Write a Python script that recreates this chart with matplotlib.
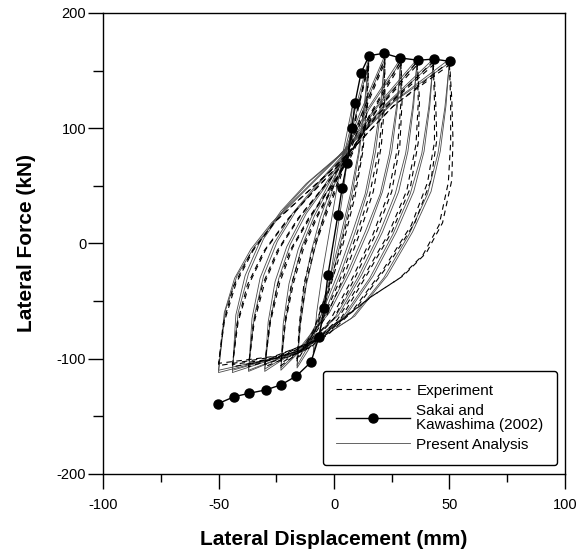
import matplotlib
matplotlib.use("Agg")
import matplotlib.pyplot as plt
from matplotlib.ticker import MultipleLocator

plt.rcParams['font.family'] = ['Liberation Sans', 'DejaVu Sans']
plt.rcParams['axes.unicode_minus'] = False

# ---------------- data ----------------
# Present Analysis loops, first cycle at each displacement amplitude
analysis_x = [
    [8, 6.5, 4, 1, -2, -5, -9, -7.5, -5, -2, 1, 4, 8],
    [15, 13.5, 11, 8, 4, -1, -6, -11, -16, -15, -13, -10, -6, -1, 4, 9, 15],
    [22, 20.5, 18, 14.5, 9.5, 3, -4, -12, -23, -22, -19.5, -15.5, -10, -4, 3, 11, 22],
    [29, 27.5, 25, 21, 15, 7, -2, -14, -30, -28.5, -25.5, -20.5, -13.5, -5, 3, 14, 29],
    [36, 34.5, 32, 28, 21, 12, 2, -14, -37, -35.5, -32, -26, -18, -8, 3, 18, 36],
    [43, 41.5, 39, 34.5, 27, 17, 5, -15, -44, -42.5, -38.5, -32, -23, -12, 2, 22, 43],
    [50, 48.5, 46, 42, 34, 23, 9, -15, -50, -47.5, -43, -36, -27, -16, -6, 4, 25, 50],
]
analysis_y = [
    [120, 85, 45, 5, -35, -68, -95, -60, -25, 10, 45, 80, 120],
    [160, 120, 80, 45, 10, -30, -65, -92, -108, -72, -38, -8, 22, 50, 75, 115, 160],
    [163, 120, 80, 45, 12, -25, -60, -88, -110, -70, -35, -5, 22, 45, 72, 112, 163],
    [161, 120, 80, 45, 12, -25, -60, -90, -111, -68, -33, -3, 24, 48, 72, 115, 161],
    [160, 120, 80, 45, 10, -27, -62, -92, -111, -65, -30, 0, 26, 50, 75, 118, 160],
    [160, 120, 80, 45, 10, -28, -63, -93, -112, -62, -28, 2, 28, 52, 76, 120, 160],
    [160, 120, 80, 45, 10, -28, -63, -94, -112, -60, -30, -5, 18, 40, 60, 80, 122, 160],
]
# Present Analysis loops, second cycle
analysis2_x = [
    [15, 13, 10.5, 7, 3, -2, -7, -12, -16, -14.5, -12, -8.5, -4.5, 0, 5, 10, 15],
    [22, 20, 17, 13.5, 8, 1.5, -5.5, -13, -23, -21, -18, -14, -8.5, -2.5, 4, 12, 22],
    [29, 27, 24, 20, 13.5, 5.5, -3.5, -15, -30, -27.5, -24, -19, -12, -3.5, 4.5, 15, 29],
    [36, 34, 31, 26.5, 19.5, 10.5, 0.5, -15, -37, -34.5, -30.5, -24.5, -16.5, -6.5, 4, 19, 36],
    [43, 41, 38, 33, 25.5, 15.5, 3.5, -16, -44, -41.5, -37, -30.5, -21.5, -10.5, 3, 23, 43],
    [50, 48, 45, 40.5, 32.5, 21.5, 7.5, -16, -50, -47, -42, -34.5, -25.5, -14.5, -5, 5, 26, 50],
]
analysis2_y = [
    [157, 118, 78, 42, 8, -32, -66, -92, -106, -70, -36, -6, 24, 50, 76, 116, 157],
    [160, 118, 78, 43, 10, -27, -62, -89, -108, -68, -33, -3, 24, 47, 73, 113, 160],
    [158, 118, 78, 43, 10, -27, -62, -91, -109, -66, -31, -1, 26, 50, 74, 116, 158],
    [157, 118, 78, 43, 8, -29, -64, -93, -110, -63, -28, 2, 28, 52, 76, 119, 157],
    [157, 118, 78, 43, 8, -30, -65, -94, -110, -60, -26, 4, 30, 54, 77, 121, 157],
    [157, 118, 78, 43, 8, -30, -65, -95, -110, -58, -28, -3, 20, 42, 61, 81, 123, 157],
]

# Experiment loops, first cycle
experiment_x = [
    [15, 14.5, 12.5, 9, 4, -2, -8, -16, -15, -13, -9, -4, 1, 6, 10, 15],
    [22, 22, 20.5, 17, 11, 4, -3, -12, -23, -21.5, -18.5, -14, -8, -1, 5, 12, 22],
    [29, 29.5, 28.5, 25, 18, 9, 0, -12, -30, -28, -24.5, -19, -11, -2, 6, 15, 29],
    [36, 37, 36.5, 33, 25, 14, 3, -10, -37, -35, -31, -24.5, -15.5, -5, 5, 17, 36],
    [43, 44, 44.5, 42, 35, 23, 10, -3, -25, -44, -42, -37.5, -30.5, -20.5, -9, 3, 18, 43],
    [50, 51, 51.5, 51, 47, 40, 30, 17, 3, -6, -25, -50, -48, -43.5, -36, -26, -14, -2, 8, 25, 50],
]
experiment_y = [
    [157, 120, 80, 40, 0, -40, -75, -102, -70, -35, -3, 25, 50, 80, 115, 157],
    [160, 125, 85, 45, 8, -30, -62, -90, -106, -70, -36, -5, 22, 48, 72, 112, 160],
    [159, 125, 85, 45, 8, -30, -65, -92, -107, -70, -36, -6, 22, 48, 72, 110, 159],
    [158, 125, 88, 48, 10, -28, -65, -90, -107, -70, -36, -6, 22, 48, 72, 112, 158],
    [158, 125, 90, 55, 18, -20, -55, -80, -100, -107, -70, -36, -7, 20, 45, 70, 110, 158],
    [158, 125, 90, 55, 18, -8, -28, -45, -67, -82, -98, -106, -70, -37, -8, 18, 40, 62, 82, 118, 158],
]
# Experiment loops, second cycle
experiment2_x = [
    [15, 14, 12, 8, 3, -3, -9, -16, -14.5, -12, -8, -3, 2, 6.5, 10.5, 15],
    [22, 21.5, 19.5, 15.5, 9.5, 2.5, -4.5, -13, -23, -21, -17.5, -13, -7, 0, 6, 13, 22],
    [29, 29, 27.5, 23.5, 16.5, 7.5, -1.5, -13, -30, -27.5, -23.5, -18, -10, -1, 7, 16, 29],
    [36, 36.5, 35.5, 31.5, 23.5, 12.5, 1.5, -11, -37, -34.5, -30, -23.5, -14.5, -4, 6, 18, 36],
    [43, 43.5, 43.5, 40.5, 33.5, 21.5, 8.5, -4.5, -26, -44, -41.5, -36.5, -29.5, -19.5, -8, 4, 19, 43],
    [50, 50.5, 50.5, 49.5, 45.5, 38.5, 28.5, 15.5, 1.5, -7.5, -26, -50, -47.5, -42.5, -35, -25, -13, -1, 9, 26, 50],
]
experiment2_y = [
    [154, 118, 78, 38, -2, -42, -76, -100, -68, -33, -1, 27, 52, 82, 117, 154],
    [157, 123, 83, 43, 6, -32, -64, -91, -104, -68, -34, -3, 24, 50, 74, 114, 157],
    [156, 123, 83, 43, 6, -32, -66, -93, -105, -68, -34, -4, 24, 50, 74, 112, 156],
    [155, 123, 86, 46, 8, -30, -66, -91, -105, -68, -34, -4, 24, 50, 74, 114, 155],
    [155, 123, 88, 53, 16, -22, -57, -81, -100, -105, -68, -34, -5, 22, 47, 72, 112, 155],
    [155, 123, 88, 53, 16, -10, -30, -47, -69, -84, -98, -104, -68, -35, -6, 20, 42, 64, 84, 120, 155],
]

# Sakai and Kawashima (2002) envelope points
sakai_x = [-50.2, -43.3, -36.8, -29.4, -22.9, -16.3, -10.0, -6.5, -4.3, -2.6,
           1.7, 3.5, 5.6, 7.8, 9.1, 11.7, 15.2, 21.6, 28.6, 36.4, 43.3, 50.2]
sakai_y = [-139, -133, -130, -127, -122.6, -115, -103, -81, -56, -27,
           25, 48, 70, 100, 122, 148, 163, 165, 161, 159, 160, 158]

x_ticks = [-100, -50, 0, 50, 100]
y_ticks = [-200, -100, 0, 100, 200]

# ---------------- figure ----------------
fig = plt.figure(figsize=(5.87, 5.53), dpi=100)
ax = fig.add_axes([0.1755, 0.1429, 0.787, 0.8336])

ana_color = '#4a4a4a'
first = True
for xs_list, ys_list in ((analysis_x, analysis_y), (analysis2_x, analysis2_y)):
    for xs, ys in zip(xs_list, ys_list):
        ax.plot(xs, ys, color=ana_color, lw=0.6,
                label='Present Analysis' if first else None, zorder=2)
        first = False

first = True
for xs_list, ys_list in ((experiment_x, experiment_y), (experiment2_x, experiment2_y)):
    for xs, ys in zip(xs_list, ys_list):
        ax.plot(xs, ys, color='black', lw=0.8, linestyle=(0, (5, 4)),
                label='Experiment' if first else None, zorder=3)
        first = False

ax.plot(sakai_x, sakai_y, color='black', lw=1.0, marker='o', markersize=6.5,
        label='Sakai and\nKawashima (2002)', zorder=4)

ax.set_xlim(-100, 100)
ax.set_ylim(-200, 200)
ax.set_xticks(x_ticks)
ax.set_yticks(y_ticks)
ax.xaxis.set_minor_locator(MultipleLocator(25))
ax.yaxis.set_minor_locator(MultipleLocator(50))
ax.tick_params(axis='x', which='major', direction='out', length=11, width=1, pad=6, labelsize=10.5)
ax.tick_params(axis='x', which='minor', direction='out', length=6, width=1)
ax.tick_params(axis='y', which='major', direction='out', length=11, width=1, pad=1, labelsize=10.5)
ax.tick_params(axis='y', which='minor', direction='out', length=7, width=1)
for s in ax.spines.values():
    s.set_linewidth(1.0)

ax.set_xlabel('Lateral Displacement (mm)', fontsize=15, fontweight='bold', labelpad=13)
ax.set_ylabel('Lateral Force (kN)', fontsize=15, fontweight='bold', labelpad=15)

handles, labels = ax.get_legend_handles_labels()
order = [labels.index('Experiment'), labels.index('Sakai and\nKawashima (2002)'),
         labels.index('Present Analysis')]
leg = ax.legend([handles[k] for k in order], [labels[k] for k in order],
                loc='lower right', bbox_to_anchor=(0.982, 0.02), borderaxespad=0,
                fontsize=11, handlelength=4.8, handletextpad=0.45, labelspacing=0.4,
                fancybox=True, frameon=True, borderpad=0.85)
for t in leg.get_texts():
    t.set_linespacing(1.0)
leg.get_frame().set_edgecolor('black')
leg.get_frame().set_linewidth(1.0)
leg.get_frame().set_alpha(1)

fig.savefig('out.png', dpi=100)
